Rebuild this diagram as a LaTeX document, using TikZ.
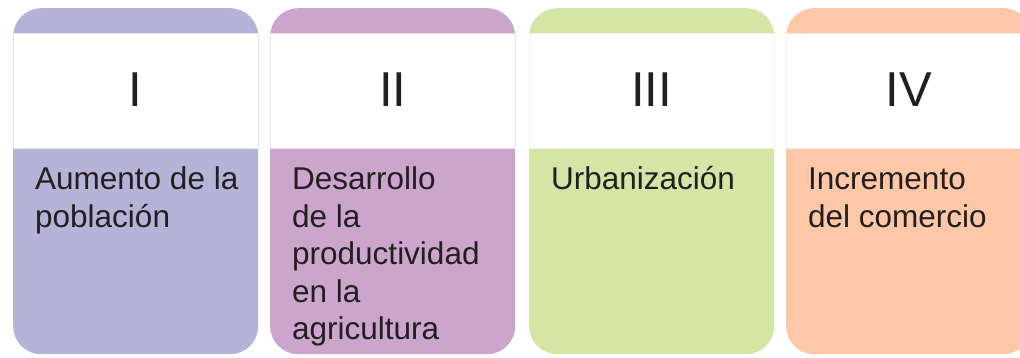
\documentclass[tikz,border=0pt]{standalone}
\usepackage{fontspec}
\setmainfont{Liberation Sans}
\definecolor{lila}{HTML}{B5B3D8}
\definecolor{malva}{HTML}{CCA5CD}
\definecolor{lima}{HTML}{D4E5A6}
\definecolor{salmon}{HTML}{FCC8A8}
\definecolor{tinta}{HTML}{231F20}
\tikzset{
  card/.style={rectangle,rounded corners=28pt,anchor=north west,
    minimum width=245pt,minimum height=346pt,inner sep=0pt},
  band/.style={fill=white,line width=0.6pt},
  numtext/.style={anchor=base,text=tinta,font=\fontsize{49}{55}\selectfont},
  cardtext/.style={anchor=north west,align=left,inner sep=0pt,text=tinta,
    font=\fontsize{31.5}{37.5}\selectfont}
}
\begin{document}
\begin{tikzpicture}[x=1pt,y=-1pt]
    \useasboundingbox (0,0) rectangle (1020,357);
    \clip (0,0) rectangle (1020,357);
    \coordinate (A) at (13,8);
    \coordinate (B) at (270,8);
    \coordinate (C) at (529,8);
    \coordinate (D) at (786,8);
    \node[card,fill=lila] (cardA) at (A) {};
    \node[card,fill=malva] (cardB) at (B) {};
    \node[card,fill=lima] (cardC) at (C) {};
    \node[card,fill=salmon] (cardD) at (D) {};
    \draw[band,draw=lila!35] ([yshift=-25pt]cardA.north west) rectangle ([yshift=-140pt]cardA.north east);
    \draw[band,draw=malva!35] ([yshift=-25pt]cardB.north west) rectangle ([yshift=-140pt]cardB.north east);
    \draw[band,draw=lima!35] ([yshift=-25pt]cardC.north west) rectangle ([yshift=-140pt]cardC.north east);
    \draw[band,draw=salmon!35] ([yshift=-25pt]cardD.north west) rectangle ([yshift=-140pt]cardD.north east);
    \node[numtext] (numA) at ([yshift=-98pt]cardA.north) {I};
    \node[numtext] (numB) at ([yshift=-98pt]cardB.north) {II};
    \node[numtext] (numC) at ([yshift=-98pt]cardC.north) {III};
    \node[numtext] (numD) at ([yshift=-98pt]cardD.north) {IV};
    \node[cardtext] (txtA) at ([xshift=22pt,yshift=-155.5pt]cardA.north west) {\strut Aumento de la\\población};
    \node[cardtext] (txtB) at ([xshift=22pt,yshift=-155.5pt]cardB.north west) {\strut Desarrollo\\de la\\productividad\\en la\\agricultura};
    \node[cardtext] (txtC) at ([xshift=22pt,yshift=-155.5pt]cardC.north west) {\strut Urbanización};
    \node[cardtext] (txtD) at ([xshift=22pt,yshift=-155.5pt]cardD.north west) {\strut Incremento\\del comercio};
  \end{tikzpicture}
\end{document}
